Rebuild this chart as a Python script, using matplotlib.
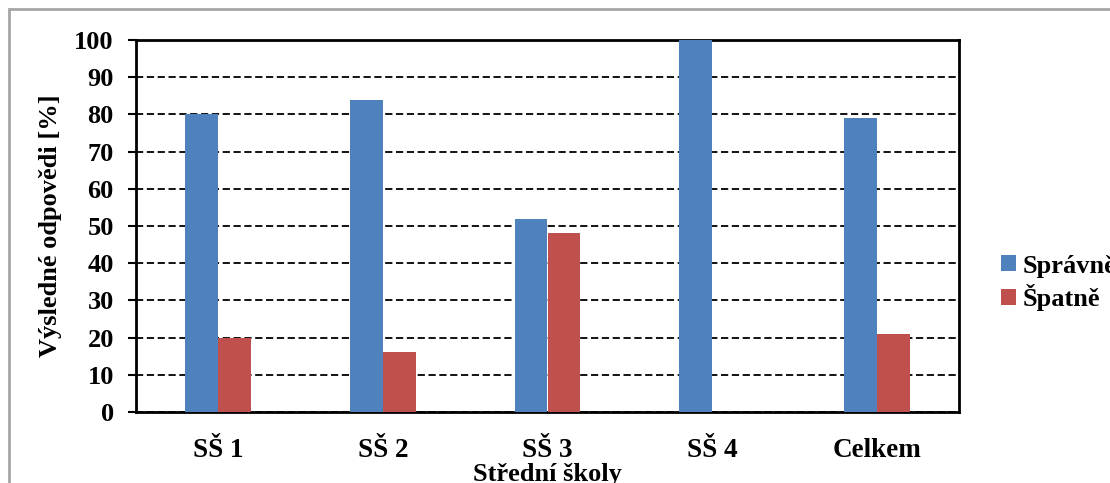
import numpy as np
import matplotlib
matplotlib.use("Agg")
import matplotlib.pyplot as plt
from matplotlib.patches import Rectangle

plt.rcParams["font.family"] = ["Liberation Serif", "DejaVu Serif"]
plt.rcParams["font.weight"] = "bold"

categories = ["SŠ 1", "SŠ 2", "SŠ 3", "SŠ 4", "Celkem"]
spravne = [80, 84, 52, 100, 79]
spatne = [20, 16, 48, 0, 21]
yticks = list(range(0, 101, 10))

W, H = 1110, 483
fig = plt.figure(figsize=(W / 100, H / 100), dpi=100)
fig.patches.append(Rectangle((8.5 / W, -0.1), 1.2, 1.1 - 9 / H, transform=fig.transFigure,
                             fill=False, ec="#a6a6a6", lw=2, zorder=0))

ax = fig.add_axes([136 / W, (H - 412) / H, (959 - 136) / W, (412 - 40) / H])
x = np.arange(len(categories))
w = 0.2
ax.bar(x - w / 2, spravne, w, color="#4F81BD", label="Správně", zorder=3)
ax.bar(x + w / 2, spatne, w, color="#C0504D", label="Špatně", zorder=3)

ax.set_xlim(-0.5, len(categories) - 0.5)
ax.set_ylim(0, 100)
ax.set_yticks(yticks)
ax.set_xticks(x)
ax.set_xticklabels(categories)
ax.yaxis.grid(True, color="black", ls=(0, (4, 2)), lw=1.3, zorder=1)
for s in ax.spines.values():
    s.set_linewidth(2)
ax.tick_params(axis="y", length=6, width=1.5, pad=10, labelsize=19)
ax.tick_params(axis="x", length=0, pad=19, labelsize=19.5)
for lab in ax.get_xticklabels() + ax.get_yticklabels():
    lab.set_fontweight("bold")
ax.set_ylabel("Výsledné odpovědi [%]", fontsize=19, fontweight="bold", labelpad=9)
ax.set_xlabel("Střední školy", fontsize=19, fontweight="bold", labelpad=0)

ax.legend(loc="center left", bbox_to_anchor=(988 / W, (H - 283) / H),
          bbox_transform=fig.transFigure, frameon=False,
          handlelength=0.55, handleheight=0.55, handletextpad=0.25, labelspacing=0.25,
          borderpad=0, prop={"weight": "bold", "size": 19})

fig.savefig("out.png", dpi=100)
